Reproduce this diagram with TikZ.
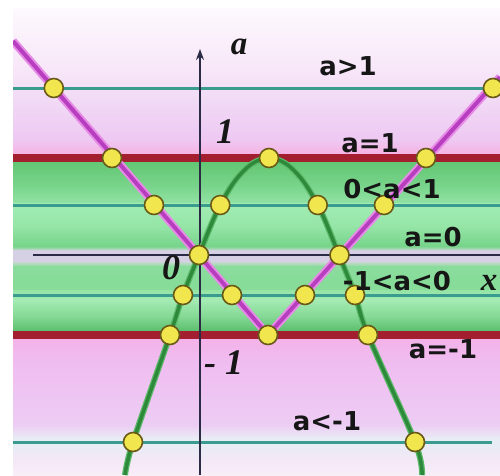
\documentclass[tikz,border=0pt]{standalone}
\usepackage{fontspec}
\newfontfamily\labfont{DejaVu Sans}
\newfontfamily\mathsfont{Liberation Serif}
\usetikzlibrary{arrows.meta}
\definecolor{txt}{HTML}{161616}
\definecolor{tealln}{HTML}{3A9C8E}
\definecolor{redln}{HTML}{A31F2F}
\definecolor{axisc}{HTML}{2B2B45}
\definecolor{magglowc}{HTML}{E68CE6}
\definecolor{magcorec}{HTML}{B83EC0}
\definecolor{grnc}{HTML}{2C8A3A}
\definecolor{grnglowc}{HTML}{5DB86A}
\definecolor{dotfill}{HTML}{F2E64E}
\definecolor{dotedge}{HTML}{6A5A18}
\definecolor{b01}{HTML}{FDF9FD}
\definecolor{b02}{HTML}{F7E6F8}
\definecolor{b03}{HTML}{F1DAF5}
\definecolor{b04}{HTML}{EEC8F2}
\definecolor{b05}{HTML}{F6B2E2}
\definecolor{g01}{HTML}{5CC26C}
\definecolor{g02}{HTML}{78D48A}
\definecolor{g03}{HTML}{92E2A4}
\definecolor{g04}{HTML}{A2ECB4}
\definecolor{g05}{HTML}{96E6A8}
\definecolor{g06}{HTML}{76D48A}
\definecolor{g07}{HTML}{C8D8D0}
\definecolor{g08}{HTML}{D6D0E4}
\definecolor{g09}{HTML}{8ADC9C}
\definecolor{g10}{HTML}{86DC98}
\definecolor{g11}{HTML}{94E4A6}
\definecolor{g12}{HTML}{A4EBB4}
\definecolor{g13}{HTML}{80D690}
\definecolor{g14}{HTML}{52B864}
\definecolor{p01}{HTML}{F4B0E6}
\definecolor{p02}{HTML}{F0BCF0}
\definecolor{p03}{HTML}{EDCDF4}
\definecolor{p04}{HTML}{E8ECF4}
\definecolor{p05}{HTML}{F4E8F6}
\definecolor{p06}{HTML}{F8EEF8}
\begin{document}
\begin{tikzpicture}[x=1pt,y=-1pt,
  dot/.style={circle, fill=dotfill, draw=dotedge, line width=1.6pt, minimum size=19pt, inner sep=0pt},
  lbl/.style={font=\labfont\bfseries\fontsize{26}{30}\selectfont, text=txt, inner sep=0pt},
  mlbl/.style={font=\mathsfont\bfseries\itshape\fontsize{36}{40}\selectfont, text=txt, inner sep=0pt},
  levelln/.style={draw=tealln, line width=3pt},
  boundln/.style={draw=redln, line width=8pt},
  axisln/.style={draw=axisc, line width=2.6pt},
  magglow/.style={draw=magglowc, line width=8pt, line join=round},
  magcore/.style={draw=magcorec, line width=4pt, line join=round},
  grnglow/.style={draw=grnglowc, line width=6pt},
  grncore/.style={draw=grnc, line width=3.5pt}]
\useasboundingbox (0,0) rectangle (500,475);
\fill[white] (0,0) rectangle (500,475);
\begin{scope}
\clip (13,8) rectangle (500,475);
% background bands
\foreach \a/\b/\c/\d in {8/70.5/b01/b02, 70/100.5/b02/b03, 100/140.5/b03/b04, 140/154.5/b04/b05,
  154/185.5/g01/g02, 185/203.5/g02/g03, 203/225.5/g04/g05, 225/246.5/g05/g06, 246/250.5/g06/g07,
  250/262.5/g08/g08, 262/266.5/g07/g09, 266/290.5/g09/g10, 290/300.5/g11/g12, 300/318.5/g12/g13,
  318/334.5/g13/g14, 334/360.5/p01/p02, 360/425.5/p02/p03, 425/438.5/p03/p04, 438/446.5/p04/p04,
  446/460.5/p04/p05, 460/475/p05/p06}
  \shade[top color=\c, bottom color=\d] (13,\a) rectangle (500,\b);
% level lines
\coordinate (hAl) at (13,88);    \coordinate (hAr) at (500,88);
\coordinate (hCl) at (13,205);   \coordinate (hCr) at (500,205);
\coordinate (hEl) at (13,295);   \coordinate (hEr) at (500,295);
\coordinate (hGl) at (13,442);   \coordinate (hGr) at (492,442);
\coordinate (hBl) at (13,157.5); \coordinate (hBr) at (500,157.5);
\coordinate (hFl) at (13,335);   \coordinate (hFr) at (500,335);
\draw[levelln] (hAl) -- (hAr);
\draw[levelln] (hCl) -- (hCr);
\draw[levelln] (hEl) -- (hEr);
\draw[levelln] (hGl) -- (hGr);
\draw[boundln] (hBl) -- (hBr);
\draw[boundln] (hFl) -- (hFr);
% axes
\coordinate (xs) at (33,255); \coordinate (xe) at (500,255);
\coordinate (ys) at (200,475); \coordinate (ye) at (200,49);
\draw[axisln] (xs) -- (xe);
\draw[axisln, -{Stealth[length=11pt,width=8pt]}] (ys) -- (ye);
% magenta broken line
\coordinate (mL) at (13,41); \coordinate (mV) at (268,335); \coordinate (mR) at (500,77);
\draw[magglow] (mL) -- (mV) -- (mR);
\draw[magcore] (mL) -- (mV) -- (mR);
% green curve
\def\grnpts{(125,475) (133,442) (170,335) (183,295) (199,255) (216.5,212.6) (234,182.2) (251.5,164.1) (269,158) (286.5,164.1) (304,182.2) (321.5,212.6) (339,255) (355,295) (368,335) (415,442) (422,475)}
\draw[grnglow] plot[smooth, tension=0.55] coordinates {\grnpts};
\draw[grncore] plot[smooth, tension=0.55] coordinates {\grnpts};
% dots
\node[dot] (m1) at (53.8,88) {};
\node[dot] (m2) at (493,88) {};
\node[dot] (m3) at (112,158) {};
\node[dot] (g1) at (269,158) {};
\node[dot] (m4) at (426,158) {};
\node[dot] (m5) at (154,205) {};
\node[dot] (g2) at (220.3,205) {};
\node[dot] (g3) at (317.7,205) {};
\node[dot] (m6) at (384,205) {};
\node[dot] (o1) at (199,255) {};
\node[dot] (o2) at (339.5,255) {};
\node[dot] (g4) at (183,295) {};
\node[dot] (m7) at (232,295) {};
\node[dot] (m8) at (305,295) {};
\node[dot] (g5) at (355,295) {};
\node[dot] (g6) at (170,335) {};
\node[dot] (m9) at (268,335) {};
\node[dot] (g7) at (368,335) {};
\node[dot] (g8) at (133,442) {};
\node[dot] (g9) at (415,442) {};
% labels
\node[mlbl, font=\mathsfont\bfseries\itshape\fontsize{33}{38}\selectfont] (la) at (239,47) {a};
\node[mlbl] (l1) at (225,132) {1};
\node[mlbl] (l0) at (171,268) {0};
\node[mlbl, anchor=west] (lm1) at (204,363) {- 1};
\node[mlbl, font=\mathsfont\bfseries\itshape\fontsize{33}{38}\selectfont] (lx) at (489,283) {x};
\node[lbl] (t1) at (348,66) {a>1};
\node[lbl] (t2) at (370,143) {a=1};
\node[lbl] (t3) at (392,189) {0<a<1};
\node[lbl] (t4) at (433,237) {a=0};
\node[lbl] (t5) at (397,281) {-1<a<0};
\node[lbl] (t6) at (443,349) {a=-1};
\node[lbl] (t7) at (327,421) {a<-1};
\end{scope}
\end{tikzpicture}
\end{document}
